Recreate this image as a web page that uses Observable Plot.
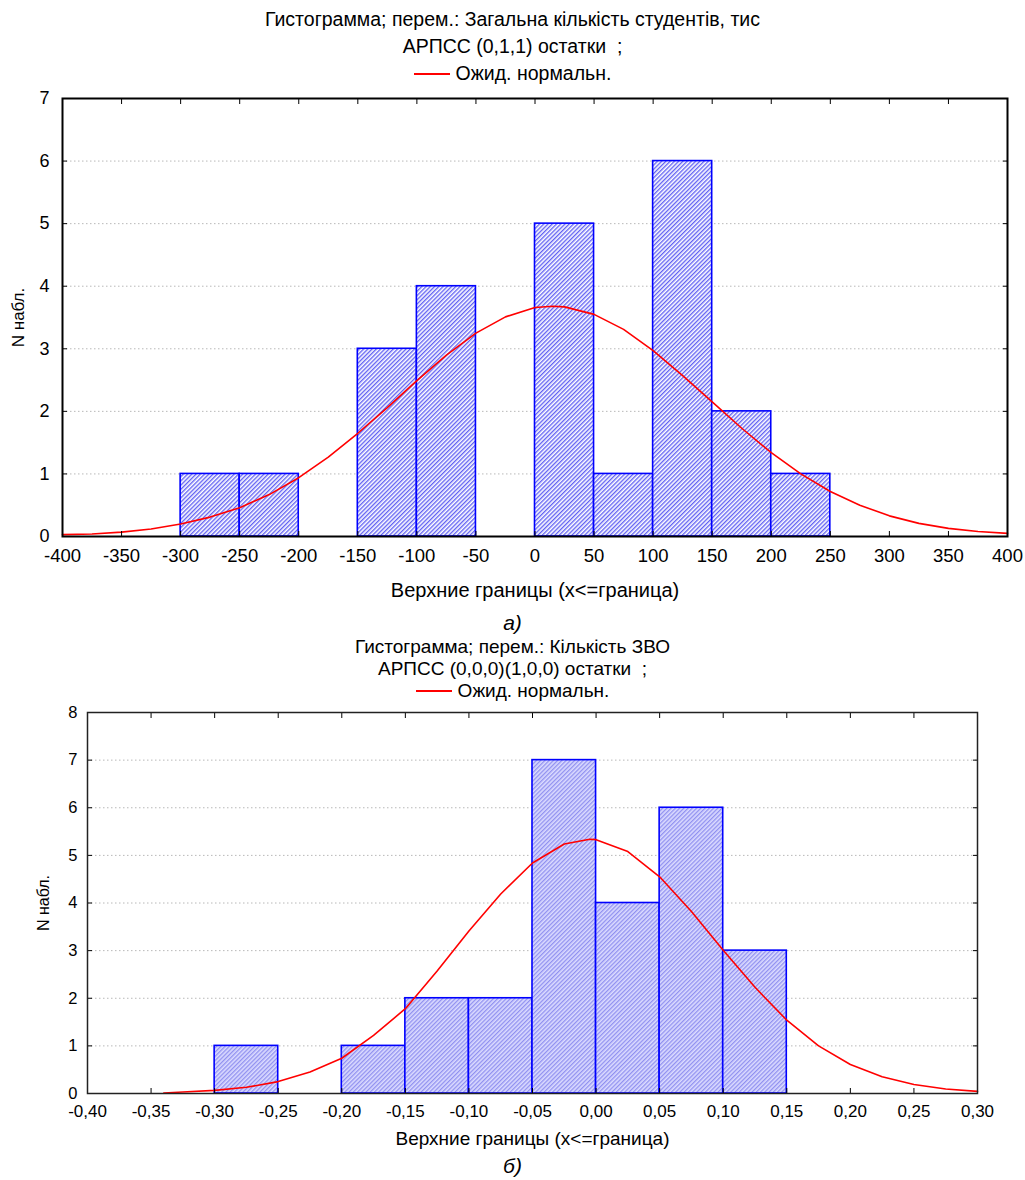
<!DOCTYPE html>
<html>
<head>
<meta charset="utf-8">
<script src="https://cdn.jsdelivr.net/npm/d3@7"></script>
<script src="https://cdn.jsdelivr.net/npm/@observablehq/plot@0.6"></script>
<style>
  html, body { margin: 0; padding: 0; background: #fff; }
  body { position: relative; width: 1025px; height: 1180px; font-family: "Liberation Sans", Arial, sans-serif; color: #000; }
  .abs { position: absolute; left: 0; width: 1025px; }
  .ttl { text-align: center; white-space: pre; }
  .leg { display: inline-block; width: 36px; border-top: 2px solid #ff0000; vertical-align: middle; margin-right: 6px; position: relative; top: -1px; }
  .cap { text-align: center; font-style: italic; font-size: 21px; }
</style>
</head>
<body>
<div class="abs ttl" id="titleA" style="top:6px; font-size:19.5px; line-height:27px;"></div>
<div class="abs" id="chartA" style="top:88px;"></div>
<div class="abs cap" style="top:611px;">а)</div>
<div class="abs ttl" id="titleB" style="top:636px; font-size:19px; line-height:22px;"></div>
<div class="abs" id="chartB" style="top:702px;"></div>
<div class="abs cap" style="top:1154px;">б)</div>
<script>
// ---------- Chart A data ----------
const titleA = ["Гистограмма; перем.: Загальна кількість студентів, тис", "АРПСС (0,1,1) остатки  ;"];
const legendLabel = "Ожид. нормальн.";
const xTicksA = [-400, -350, -300, -250, -200, -150, -100, -50, 0, 50, 100, 150, 200, 250, 300, 350, 400];
const yTicksA = [0, 1, 2, 3, 4, 5, 6, 7];
const binLoA = [-300, -250, -200, -150, -100, -50, 0, 50, 100, 150, 200];
const binHiA = [-250, -200, -150, -100, -50, 0, 50, 100, 150, 200, 250];
const countsA = [1, 1, 0, 3, 4, 0, 5, 1, 6, 2, 1];
const curveXA = [-400, -375, -350, -325, -300, -275, -250, -225, -200, -175, -150, -125, -100, -75, -50, -25, 0, 15, 25, 50, 75, 100, 125, 150, 175, 200, 225, 250, 275, 300, 325, 350, 375, 400];
const curveYA = [0.03, 0.04, 0.07, 0.12, 0.20, 0.31, 0.46, 0.67, 0.94, 1.27, 1.65, 2.06, 2.49, 2.90, 3.25, 3.51, 3.66, 3.68, 3.67, 3.55, 3.31, 2.97, 2.57, 2.15, 1.73, 1.34, 1.00, 0.72, 0.50, 0.33, 0.21, 0.13, 0.08, 0.05];

// ---------- Chart B data ----------
const titleB = ["Гистограмма; перем.: Кількість ЗВО", "АРПСС (0,0,0)(1,0,0) остатки  ;"];
const xTicksB = [-0.40, -0.35, -0.30, -0.25, -0.20, -0.15, -0.10, -0.05, 0.00, 0.05, 0.10, 0.15, 0.20, 0.25, 0.30];
const yTicksB = [0, 1, 2, 3, 4, 5, 6, 7, 8];
const binLoB = [-0.30, -0.25, -0.20, -0.15, -0.10, -0.05, 0.00, 0.05, 0.10];
const binHiB = [-0.25, -0.20, -0.15, -0.10, -0.05, 0.00, 0.05, 0.10, 0.15];
const countsB = [1, 0, 1, 2, 2, 7, 4, 6, 3];
const curveXB = [-0.34, -0.325, -0.30, -0.275, -0.25, -0.225, -0.20, -0.175, -0.15, -0.125, -0.10, -0.075, -0.05, -0.025, -0.005, 0.00, 0.025, 0.05, 0.075, 0.10, 0.125, 0.15, 0.175, 0.20, 0.225, 0.25, 0.275, 0.30];
const curveYB = [0.01, 0.03, 0.065, 0.13, 0.25, 0.45, 0.74, 1.22, 1.78, 2.57, 3.41, 4.19, 4.84, 5.24, 5.34, 5.33, 5.08, 4.55, 3.82, 3.01, 2.23, 1.54, 1.00, 0.61, 0.35, 0.19, 0.095, 0.045];

const xLabel = "Верхние границы (x<=граница)";
const yLabel = "N набл.";

function titleHTML(el, lines) {
  const d = document.getElementById(el);
  d.innerHTML = lines.map(t => `<div>${t}</div>`).join("") +
    `<div><span class="leg"></span>${legendLabel}</div>`;
}
titleHTML("titleA", titleA);
titleHTML("titleB", titleB);

const binsA = binLoA.map((lo, i) => ({lo, hi: binHiA[i], n: countsA[i]}));
const curveA = curveXA.map((x, i) => ({x, y: curveYA[i]}));
const binsB = binLoB.map((lo, i) => ({lo, hi: binHiB[i], n: countsB[i]}));
const curveB = curveXB.map((x, i) => ({x, y: curveYB[i]}));

const fmtB = d3.formatLocale({decimal: ",", thousands: " ", grouping: [3], currency: ["", ""], minus: "-"}).format(".2f");

function makeChart(cfg) {
  const svg = Plot.plot({
    width: 1025,
    height: cfg.height,
    marginLeft: cfg.ml,
    marginRight: cfg.mr,
    marginTop: 10,
    marginBottom: cfg.mb,
    style: {fontFamily: '"Liberation Sans", Arial, sans-serif', fontSize: cfg.fs + "px", color: "#000", background: "#fff", overflow: "visible"},
    x: {domain: cfg.xdom},
    y: {domain: cfg.ydom},
    marks: [
      Plot.ruleY(cfg.yTicks.slice(1, -1), {stroke: "#b8b8b8", strokeDasharray: "1.5,2.5", strokeWidth: 1}),
      Plot.rectY(cfg.bins, {filter: d => d.n > 0, x1: "lo", x2: "hi", y1: 0, y2: "n", fill: `url(#${cfg.pat})`, stroke: "#0000ff", strokeWidth: 1.6}),
      Plot.line(cfg.curve, {x: "x", y: "y", stroke: "#ff0000", strokeWidth: 1.6, curve: "linear"}),
      Plot.axisX({anchor: "bottom", ticks: cfg.xTicks, tickFormat: cfg.xfmt, tickSize: -5, tickPadding: cfg.xpad, stroke: "#000", label: null, fontSize: cfg.xfs}),
      Plot.axisX({anchor: "top", ticks: cfg.xTicks, tickFormat: () => "", tickSize: -5, label: null}),
      Plot.axisY({anchor: "left", ticks: cfg.yTicks, tickFormat: d => String(d), tickSize: -5, tickPadding: cfg.ypad, label: null, fontSize: cfg.yfs}),
      Plot.axisY({anchor: "right", ticks: cfg.yTicks, tickFormat: () => "", tickSize: -5, label: null}),
      Plot.text([xLabel], {frameAnchor: "bottom", dy: cfg.xlo, lineAnchor: "middle", fontSize: cfg.xlfs}),
      Plot.text([yLabel], {frameAnchor: "left", dx: -cfg.ylo, rotate: -90, lineAnchor: "middle", textAnchor: "middle", fontSize: cfg.ylfs}),
      Plot.frame({stroke: cfg.frameColor, strokeWidth: cfg.frameW})
    ]
  });
  const defs = d3.select(svg).insert("defs", ":first-child");
  const p = defs.append("pattern").attr("id", cfg.pat).attr("patternUnits", "userSpaceOnUse")
    .attr("width", 3).attr("height", 3).attr("patternTransform", "rotate(45)");
  p.append("rect").attr("width", 3).attr("height", 3).attr("fill", cfg.patBg);
  p.append("line").attr("x1", 0.75).attr("y1", 0).attr("x2", 0.75).attr("y2", 3)
    .attr("stroke", cfg.patFg).attr("stroke-width", cfg.patW);
  return svg;
}

document.getElementById("chartA").appendChild(makeChart({
  height: 520, ml: 62, mr: 18, mb: 72, fs: 17, xfs: 18.5, yfs: 18, xlfs: 20, ylfs: 17,
  xdom: [-400, 400], ydom: [0, 7], xTicks: xTicksA, yTicks: yTicksA,
  xfmt: d => String(d), xpad: 17, xlo: 54, ypad: 18, ylo: 44,
  bins: binsA, curve: curveA, pat: "hatchA", patBg: "#ffffff", patFg: "#3a3af0", patW: 1.1,
  frameColor: "#000", frameW: 2
}));

document.getElementById("chartB").appendChild(makeChart({
  height: 451, ml: 87, mr: 48, mb: 60, fs: 15, xfs: 17, yfs: 16.5, xlfs: 19, ylfs: 16,
  xdom: [-0.40, 0.30], ydom: [0, 8], xTicks: xTicksB, yTicks: yTicksB,
  xfmt: fmtB, xpad: 16, xlo: 45, ypad: 15, ylo: 44,
  bins: binsB, curve: curveB, pat: "hatchB", patBg: "#dcdcff", patFg: "#7878ec", patW: 1,
  frameColor: "#222", frameW: 1.5
}));
</script>
</body>
</html>
